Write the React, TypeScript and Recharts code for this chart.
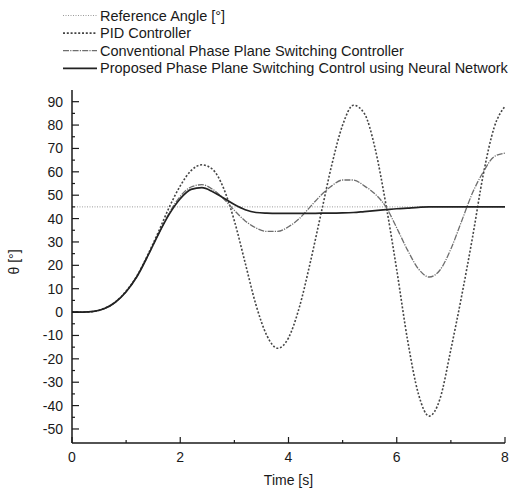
import { LineChart, Line, XAxis, YAxis } from "recharts";

const times = [
  0, 0.2, 0.4, 0.6, 0.8, 1, 1.2, 1.4, 1.6, 1.8, 2, 2.2, 2.4, 2.6, 2.8, 3, 3.2, 3.4, 3.6, 3.8, 4,
  4.2, 4.4, 4.6, 4.8, 5, 5.2, 5.4, 5.6, 5.8, 6, 6.2, 6.4, 6.6, 6.8, 7, 7.2, 7.4, 7.6, 7.8, 8,
];

const referenceAngle = 45;

const pidValues = [
  0, 0, 0.3, 1.6, 4.3, 9, 15.5, 24.5, 34.5, 45, 54, 60.5, 63, 61, 53, 39, 21, 3, -10, -15.5, -11,
  2, 21, 42, 63, 80, 88.5, 85, 70, 46, 18, -12, -35, -44.5, -37, -16, 7, 32, 59, 79, 88,
];

const conventionalValues = [
  0, 0, 0.3, 1.5, 4.2, 8.7, 15.2, 24, 33.5, 42.5, 49.5, 53.5, 54.5, 52.5, 48.5, 43.5, 39, 36, 34.5, 34.5, 36.5,
  40, 45, 50, 54, 56.5, 56.5, 54, 50.5, 45, 36, 26.5, 18.5, 15, 18, 27, 39, 51, 60, 66.5, 68,
];

const proposedValues = [
  0, 0, 0.3, 1.5, 4.2, 8.7, 15.2, 24, 33.5, 42, 48.5, 52.5, 53.2, 51.5, 48.8, 46, 43.8, 42.6, 42.3, 42.2, 42.2,
  42.2, 42.2, 42.3, 42.3, 42.4, 42.6, 43, 43.4, 43.8, 44.2, 44.5, 44.8, 45, 45, 45, 45, 45, 45, 45, 45,
];

const xTicks = [0, 1, 2, 3, 4, 5, 6, 7, 8];
const yTicks = [-50, -45, -40, -35, -30, -25, -20, -15, -10, -5, 0, 5, 10, 15, 20, 25, 30, 35, 40, 45, 50, 55, 60, 65, 70, 75, 80, 85, 90];

const rows = times.map((t, i) => ({
  t,
  ref: referenceAngle,
  pid: pidValues[i],
  conv: conventionalValues[i],
  prop: proposedValues[i],
}));

const series = [
  { key: "ref", name: "Reference Angle [°]", stroke: "#9a9a9a", width: 1, dash: "1 1.5" },
  { key: "pid", name: "PID Controller", stroke: "#444", width: 1.6, dash: "2 1.8" },
  { key: "conv", name: "Conventional Phase Plane Switching Controller", stroke: "#6e6e6e", width: 1.3, dash: "6 1.2 1.2 1.2" },
  { key: "prop", name: "Proposed Phase Plane Switching Control using Neural Network", stroke: "#222", width: 1.7, dash: undefined },
];

const font = "'Liberation Sans', Arial, sans-serif";
const ink = "#1a1a1a";

function BottomTick(props: any) {
  const { x, y, payload } = props;
  const major = payload.value % 2 === 0;
  return (
    <g>
      <line x1={x} x2={x} y1={y} y2={y - (major ? 6 : 3)} stroke={ink} strokeWidth={1.2} />
      {major && (
        <text x={x} y={y + 19} textAnchor="middle" fontSize={14} fontFamily={font} fill={ink}>
          {payload.value}
        </text>
      )}
    </g>
  );
}

function TopTick(props: any) {
  const { x, y, payload } = props;
  const major = payload.value % 2 === 0;
  return <line x1={x} x2={x} y1={y} y2={y + (major ? 6 : 3)} stroke={ink} strokeWidth={1.2} />;
}

function LeftTick(props: any) {
  const { x, y, payload } = props;
  const major = payload.value % 10 === 0;
  return (
    <g>
      <line x1={x} x2={x + (major ? 7 : 3)} y1={y} y2={y} stroke={ink} strokeWidth={1.2} />
      {major && (
        <text x={x - 9} y={y + 5} textAnchor="end" fontSize={14} fontFamily={font} fill={ink}>
          {payload.value}
        </text>
      )}
    </g>
  );
}

function Legend() {
  return (
    <svg width={509} height={80} style={{ position: "absolute", left: 0, top: 0 }}>
      {series.map((s, i) => {
        const cy = 15.5 + i * 17.6;
        return (
          <g key={s.key}>
            <line x1={63} x2={97} y1={cy} y2={cy} stroke={s.stroke} strokeWidth={s.width} strokeDasharray={s.dash} />
            <text x={100} y={cy + 5} fontSize={14.5} fontFamily={font} fill={ink}>
              {s.name}
            </text>
          </g>
        );
      })}
    </svg>
  );
}

export default function App() {
  return (
    <div style={{ position: "absolute", left: 0, top: 0, width: 509, height: 492, background: "#fff" }}>
      <LineChart width={509} height={492} data={rows} margin={{ top: 90, right: 4, bottom: 0, left: 0 }}>
        <XAxis
          dataKey="t"
          type="number"
          domain={[0, 8]}
          ticks={xTicks}
          interval={0}
          height={49}
          tickSize={0}
          tickMargin={0}
          tickLine={false}
          axisLine={{ stroke: ink, strokeWidth: 1.5 }}
          tick={(p: any) => <BottomTick {...p} />}
          label={{ value: "Time [s]", position: "insideBottom", offset: 7, fontSize: 14, fontFamily: font, fill: ink }}
        />
        <XAxis
          xAxisId="top"
          orientation="top"
          dataKey="t"
          type="number"
          domain={[0, 8]}
          ticks={xTicks}
          interval={0}
          height={0}
          tickSize={0}
          tickMargin={0}
          tickLine={false}
          axisLine={{ stroke: ink, strokeWidth: 1.5 }}
          tick={(p: any) => <TopTick {...p} />}
        />
        <YAxis
          type="number"
          domain={[-56, 95]}
          ticks={yTicks}
          interval={0}
          width={72}
          tickSize={0}
          tickMargin={0}
          tickLine={false}
          axisLine={{ stroke: ink, strokeWidth: 1.5 }}
          tick={(p: any) => <LeftTick {...p} />}
          label={{ value: "θ [°]", angle: -90, position: "insideLeft", offset: 14, dy: 8, fontSize: 14, fontFamily: font, fill: ink }}
        />
        <YAxis
          yAxisId="right"
          orientation="right"
          type="number"
          domain={[-56, 95]}
          width={0}
          tick={false}
          tickLine={false}
          axisLine={{ stroke: ink, strokeWidth: 1.5 }}
        />
        {series.map((s) => (
          <Line
            key={s.key}
            dataKey={s.key}
            name={s.name}
            type="monotone"
            stroke={s.stroke}
            strokeWidth={s.width}
            strokeDasharray={s.dash}
            dot={false}
            activeDot={false}
            isAnimationActive={false}
          />
        ))}
      </LineChart>
      <Legend />
    </div>
  );
}
